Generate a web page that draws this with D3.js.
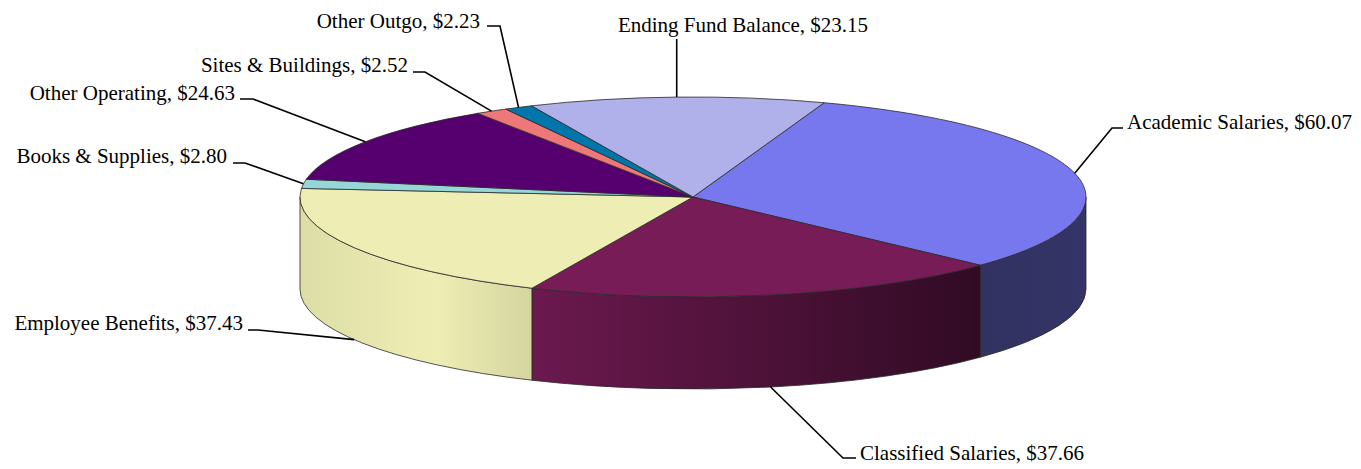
<!DOCTYPE html>
<html><head><meta charset="utf-8">
<script src="https://cdn.jsdelivr.net/npm/d3@7"></script>
<style>
body{margin:0;background:#fff}
text{font-family:"Liberation Serif","Times New Roman",serif;font-size:21px;fill:#000}
</style>
</head><body><svg id="c" width="1361" height="469"></svg>
<script>
// ---- data ----
const categories = ["Academic Salaries","Classified Salaries","Employee Benefits","Books & Supplies","Other Operating","Sites & Buildings","Other Outgo","Ending Fund Balance"];
const values = [60.07, 37.66, 37.43, 2.80, 24.63, 2.52, 2.23, 23.15];
const colors = ["#7878ee","#781c58","#eeeeb4","#96d6d6","#55006e","#ee7777","#0076aa","#b0b0ea"];
const fmt = d3.format("$.2f");

// ---- layout ----
const cx = 693, cy = 197, rx = 393, ry = 100, depth = 92;
const startDeg = 19.5;
const labelLayout = {
  "Academic Salaries":   {tx:1127, ty:129, anchor:"start",  ly:128, near:1123, elbow:1112},
  "Classified Salaries": {tx:860,  ty:460, anchor:"start",  ly:458, near:856,  elbow:843},
  "Employee Benefits":   {tx:243,  ty:330, anchor:"end",    ly:330, near:248,  elbow:258},
  "Books & Supplies":    {tx:227,  ty:163, anchor:"end",    ly:163, near:233,  elbow:245},
  "Other Operating":     {tx:235,  ty:100, anchor:"end",    ly:99,  near:240,  elbow:253},
  "Sites & Buildings":   {tx:408,  ty:72,  anchor:"end",    ly:72,  near:413,  elbow:425},
  "Other Outgo":         {tx:480,  ty:28,  anchor:"end",    ly:26,  near:487,  elbow:500},
  "Ending Fund Balance": {tx:743,  ty:32,  anchor:"middle", ly:39,  vertical:true}
};

const svg = d3.select("#c");
const defs = svg.append("defs");
const sa = startDeg * Math.PI / 180;
const arcs = d3.pie().sort(null).startAngle(sa).endAngle(sa + 2*Math.PI)(values);

const P = (a, dy=0) => [cx + rx*Math.sin(a), cy - ry*Math.cos(a) + dy];

// side lighting as function of horizontal position
const light = [[0,0.93],[0.17,1.0],[0.86,0.41],[1.0,0.43]];
colors.forEach((c,i) => {
  const g = defs.append("linearGradient").attr("id","g"+i)
    .attr("gradientUnits","userSpaceOnUse")
    .attr("x1",cx-rx).attr("x2",cx+rx).attr("y1",0).attr("y2",0);
  const base = d3.rgb(c);
  light.forEach(([t,f]) => {
    g.append("stop").attr("offset",t)
      .attr("stop-color", d3.rgb(base.r*f, base.g*f, base.b*f).formatHex());
  });
});

// sides
const sides = svg.append("g");
arcs.forEach((d,i) => {
  const s0 = Math.max(d.startAngle, Math.PI/2), s1 = Math.min(d.endAngle, 3*Math.PI/2);
  if (s1 <= s0) return;
  const a = P(s0), b = P(s1), bb = P(s1, depth), ab = P(s0, depth);
  const large = (s1 - s0) > Math.PI ? 1 : 0;
  const p = `M${a}A${rx},${ry} 0 ${large} 1 ${b}L${bb}A${rx},${ry} 0 ${large} 0 ${ab}Z`;
  sides.append("path").attr("d",p).attr("fill",`url(#g${i})`)
    .attr("stroke","#2a2a2a").attr("stroke-width",0.8).attr("stroke-linejoin","round");
});

// tops
const tops = svg.append("g");
arcs.forEach((d,i) => {
  const a = P(d.startAngle), b = P(d.endAngle);
  const large = (d.endAngle - d.startAngle) > Math.PI ? 1 : 0;
  const p = `M${cx},${cy}L${a}A${rx},${ry} 0 ${large} 1 ${b}Z`;
  tops.append("path").attr("d",p).attr("fill",colors[i])
    .attr("stroke","#2a2a2a").attr("stroke-width",0.8).attr("stroke-linejoin","round");
});

// leader lines and labels
const lab = svg.append("g");
arcs.forEach((d,i) => {
  const name = categories[i], L = labelLayout[name];
  const mid = (d.startAngle + d.endAngle)/2;
  const m = ((mid % (2*Math.PI)) + 2*Math.PI) % (2*Math.PI);
  const anc = (m > Math.PI/2 && m < 3*Math.PI/2) ? P(mid, depth) : P(mid);
  let pts;
  if (L.vertical) pts = [[anc[0], L.ly], anc];
  else pts = [[L.near, L.ly], [L.elbow, L.ly], anc];
  lab.append("path").attr("d", d3.line()(pts)).attr("fill","none")
    .attr("stroke","#000").attr("stroke-width",1.6);
  lab.append("text").attr("x",L.tx).attr("y",L.ty).attr("text-anchor",L.anchor)
    .text(`${name}, ${fmt(values[i])}`);
});
</script>
</body></html>
